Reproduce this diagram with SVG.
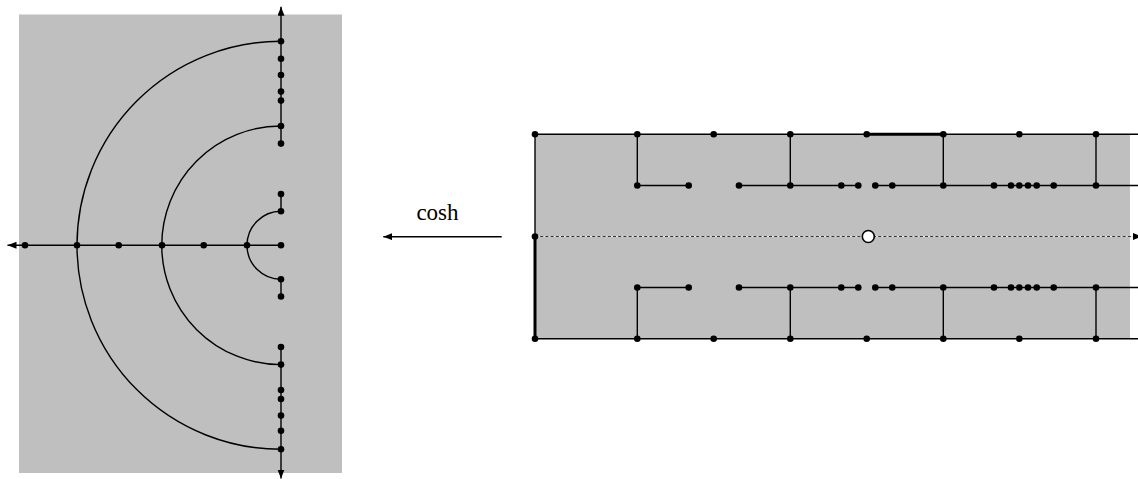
<svg xmlns="http://www.w3.org/2000/svg" width="1138" height="479" viewBox="0 0 1138 479">
  <style>
    .bg { fill: #bfbfbf; stroke: none; }
    .ln { fill: none; stroke: #000; stroke-width: 1.4; }
    .thick { fill: none; stroke: #000; stroke-width: 3; }
    .dot { fill: #000; }
    .dash-under { stroke: #e6e6e6; stroke-width: 1.2; }
    .dash { stroke: #333; stroke-width: 1.2; stroke-dasharray: 3 2.2; }
    .lbl { font-family: "Liberation Serif", "Times New Roman", serif; font-size: 23px; fill: #000; }
  </style>
  <defs>
    <marker id="arr" markerUnits="userSpaceOnUse" markerWidth="10" markerHeight="8" refX="9" refY="3.5" orient="auto">
      <path d="M0,0 L9,3.5 L0,7 Z" fill="#000"/>
    </marker>
  </defs>

  <!-- w-plane: image under cosh -->
  <g id="w-plane">
    <rect class="bg" x="19" y="14.5" width="323" height="458.5"/>
    <g id="w-axes">
      <line class="ln" x1="281" y1="245.3" x2="7.5" y2="245.3" marker-end="url(#arr)"/>
      <line class="ln" x1="281" y1="143.6" x2="281" y2="6.8" marker-end="url(#arr)"/>
      <line class="ln" x1="281" y1="194.1" x2="281" y2="211.3"/>
      <line class="ln" x1="281" y1="279.3" x2="281" y2="296.5"/>
      <line class="ln" x1="281" y1="347" x2="281" y2="478.5" marker-end="url(#arr)"/>
    </g>
    <g id="w-arcs">
      <path class="ln" d="M281,41.3 A204,204 0 0 0 281,449.3"/>
      <path class="ln" d="M281,126 A119.3,119.3 0 0 0 281,364.6"/>
      <path class="ln" d="M281,211.3 A34,34 0 0 0 281,279.3"/>
    </g>
    <g id="w-dots" class="dot">
      <circle cx="25" cy="245.3" r="3.3"/>
      <circle cx="77" cy="245.3" r="3.3"/>
      <circle cx="118.7" cy="245.3" r="3.3"/>
      <circle cx="162" cy="245.3" r="3.3"/>
      <circle cx="203.7" cy="245.3" r="3.3"/>
      <circle cx="247" cy="245.3" r="3.3"/>
      <circle cx="281" cy="245.3" r="3.3"/>
      <circle cx="281" cy="41.3" r="3.3"/>
      <circle cx="281" cy="58.8" r="3.3"/>
      <circle cx="281" cy="75" r="3.3"/>
      <circle cx="281" cy="91.6" r="3.3"/>
      <circle cx="281" cy="100.6" r="3.3"/>
      <circle cx="281" cy="126" r="3.3"/>
      <circle cx="281" cy="143.6" r="3.3"/>
      <circle cx="281" cy="194.1" r="3.3"/>
      <circle cx="281" cy="211.3" r="3.3"/>
      <circle cx="281" cy="279.3" r="3.3"/>
      <circle cx="281" cy="296.5" r="3.3"/>
      <circle cx="281" cy="347" r="3.3"/>
      <circle cx="281" cy="364.6" r="3.3"/>
      <circle cx="281" cy="390" r="3.3"/>
      <circle cx="281" cy="399" r="3.3"/>
      <circle cx="281" cy="415.6" r="3.3"/>
      <circle cx="281" cy="430.8" r="3.3"/>
      <circle cx="281" cy="449.3" r="3.3"/>
    </g>
  </g>

  <!-- mapping arrow -->
  <g id="map-arrow">
    <line class="ln" x1="501.7" y1="236.7" x2="383.3" y2="236.7" marker-end="url(#arr)"/>
    <text class="lbl" x="437.5" y="220" text-anchor="middle">cosh</text>
  </g>

  <!-- z-plane: strip -->
  <g id="z-strip">
    <rect class="bg" x="535" y="134.3" width="595" height="204.4"/>
    <g id="z-centre">
      <line class="dash-under" x1="535" y1="236.5" x2="1134" y2="236.5"/>
      <line class="dash" x1="535" y1="236.5" x2="1142" y2="236.5" marker-end="url(#arr)"/>
    </g>
    <g id="z-edges">
      <line class="ln" x1="535" y1="134.3" x2="1138" y2="134.3"/>
      <line class="ln" x1="535" y1="338.7" x2="1138" y2="338.7"/>
      <line class="ln" x1="535" y1="134.3" x2="535" y2="236.5"/>
      <line class="thick" x1="535" y1="236.5" x2="535" y2="338.7"/>
      <line class="thick" x1="866.7" y1="134.3" x2="943.3" y2="134.3"/>
    </g>
    <g id="z-cuts">
      <line class="ln" x1="637.3" y1="185.5" x2="688.7" y2="185.5"/>
      <line class="ln" x1="739" y1="185.5" x2="858.3" y2="185.5"/>
      <line class="ln" x1="875.3" y1="185.5" x2="1138" y2="185.5"/>
      <line class="ln" x1="637.3" y1="287.5" x2="688.7" y2="287.5"/>
      <line class="ln" x1="739" y1="287.5" x2="858.3" y2="287.5"/>
      <line class="ln" x1="875.3" y1="287.5" x2="1138" y2="287.5"/>
      <line class="ln" x1="637.3" y1="134.3" x2="637.3" y2="185.5"/>
      <line class="ln" x1="790.3" y1="134.3" x2="790.3" y2="185.5"/>
      <line class="ln" x1="943.3" y1="134.3" x2="943.3" y2="185.5"/>
      <line class="ln" x1="1096" y1="134.3" x2="1096" y2="185.5"/>
      <line class="ln" x1="637.3" y1="287.5" x2="637.3" y2="338.7"/>
      <line class="ln" x1="790.3" y1="287.5" x2="790.3" y2="338.7"/>
      <line class="ln" x1="943.3" y1="287.5" x2="943.3" y2="338.7"/>
      <line class="ln" x1="1096" y1="287.5" x2="1096" y2="338.7"/>
    </g>
    <g id="z-dots" class="dot">
      <!-- outer edges -->
      <circle cx="535" cy="134.3" r="3.3"/>
      <circle cx="637.3" cy="134.3" r="3.3"/>
      <circle cx="713.7" cy="134.3" r="3.3"/>
      <circle cx="790.3" cy="134.3" r="3.3"/>
      <circle cx="866.7" cy="134.3" r="3.3"/>
      <circle cx="943.3" cy="134.3" r="3.3"/>
      <circle cx="1019.3" cy="134.3" r="3.3"/>
      <circle cx="1096" cy="134.3" r="3.3"/>
      <circle cx="535" cy="236.5" r="3.3"/>
      <circle cx="535" cy="338.7" r="3.3"/>
      <circle cx="637.3" cy="338.7" r="3.3"/>
      <circle cx="713.7" cy="338.7" r="3.3"/>
      <circle cx="790.3" cy="338.7" r="3.3"/>
      <circle cx="866.7" cy="338.7" r="3.3"/>
      <circle cx="943.3" cy="338.7" r="3.3"/>
      <circle cx="1019.3" cy="338.7" r="3.3"/>
      <circle cx="1096" cy="338.7" r="3.3"/>
      <!-- upper cut -->
      <circle cx="637.3" cy="185.5" r="3.3"/>
      <circle cx="688.7" cy="185.5" r="3.3"/>
      <circle cx="739" cy="185.5" r="3.3"/>
      <circle cx="790.3" cy="185.5" r="3.3"/>
      <circle cx="841.3" cy="185.5" r="3.3"/>
      <circle cx="858.3" cy="185.5" r="3.3"/>
      <circle cx="875.3" cy="185.5" r="3.3"/>
      <circle cx="892.3" cy="185.5" r="3.3"/>
      <circle cx="943.3" cy="185.5" r="3.3"/>
      <circle cx="994" cy="185.5" r="3.3"/>
      <circle cx="1011" cy="185.5" r="3.3"/>
      <circle cx="1019.3" cy="185.5" r="3.3"/>
      <circle cx="1028" cy="185.5" r="3.3"/>
      <circle cx="1036.7" cy="185.5" r="3.3"/>
      <circle cx="1053.7" cy="185.5" r="3.3"/>
      <circle cx="1096" cy="185.5" r="3.3"/>
      <!-- lower cut -->
      <circle cx="637.3" cy="287.5" r="3.3"/>
      <circle cx="688.7" cy="287.5" r="3.3"/>
      <circle cx="739" cy="287.5" r="3.3"/>
      <circle cx="790.3" cy="287.5" r="3.3"/>
      <circle cx="841.3" cy="287.5" r="3.3"/>
      <circle cx="858.3" cy="287.5" r="3.3"/>
      <circle cx="875.3" cy="287.5" r="3.3"/>
      <circle cx="892.3" cy="287.5" r="3.3"/>
      <circle cx="943.3" cy="287.5" r="3.3"/>
      <circle cx="994" cy="287.5" r="3.3"/>
      <circle cx="1011" cy="287.5" r="3.3"/>
      <circle cx="1019.3" cy="287.5" r="3.3"/>
      <circle cx="1028" cy="287.5" r="3.3"/>
      <circle cx="1036.7" cy="287.5" r="3.3"/>
      <circle cx="1053.7" cy="287.5" r="3.3"/>
      <circle cx="1096" cy="287.5" r="3.3"/>
    </g>
    <circle id="z-origin" cx="868.3" cy="236.5" r="6" fill="#fff" stroke="#000" stroke-width="1.6"/>
  </g>
</svg>
